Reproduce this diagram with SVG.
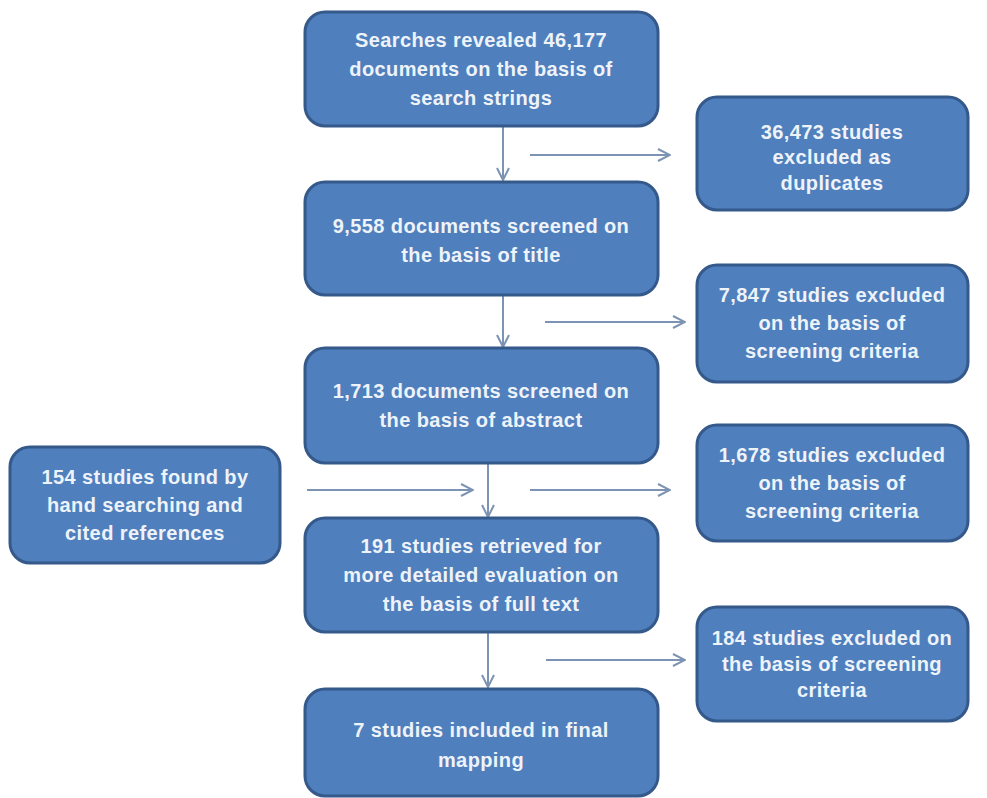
<svg xmlns="http://www.w3.org/2000/svg" width="987" height="798" viewBox="0 0 987 798">
<defs>
<style>
.box{fill:#4f7fbc;stroke:#34598a;stroke-width:3}
.t{font-family:"Liberation Sans",Arial,sans-serif;font-weight:bold;font-size:20px;fill:#eef3fa;text-anchor:middle;letter-spacing:0.4px}
.c{stroke:#7d93b3;stroke-width:2;fill:none}
</style>
<marker id="ah" viewBox="0 0 14 14" refX="13" refY="7" markerWidth="14" markerHeight="14" markerUnits="userSpaceOnUse" orient="auto">
<polyline points="1,1 13,7 1,13" fill="none" stroke="#7d93b3" stroke-width="2"/>
</marker>
</defs>
<rect width="987" height="798" fill="#ffffff"/>
<g id="connectors">
<line class="c" x1="503" y1="127" x2="503" y2="180" marker-end="url(#ah)"/>
<line class="c" x1="530" y1="155" x2="670" y2="155" marker-end="url(#ah)"/>
<line class="c" x1="503" y1="296" x2="503" y2="347" marker-end="url(#ah)"/>
<line class="c" x1="545" y1="322" x2="685" y2="322" marker-end="url(#ah)"/>
<line class="c" x1="488" y1="464" x2="488" y2="517" marker-end="url(#ah)"/>
<line class="c" x1="307" y1="490" x2="473" y2="490" marker-end="url(#ah)"/>
<line class="c" x1="530" y1="490" x2="670" y2="490" marker-end="url(#ah)"/>
<line class="c" x1="488" y1="633" x2="488" y2="687" marker-end="url(#ah)"/>
<line class="c" x1="546" y1="660" x2="685" y2="660" marker-end="url(#ah)"/>
</g>
<g id="n1">
<rect class="box" x="305" y="12" width="353" height="114" rx="20"/>
<text class="t" x="481" y="47">Searches revealed 46,177</text>
<text class="t" x="481" y="76">documents  on the basis of</text>
<text class="t" x="481" y="105">search strings</text>
</g>
<g id="n2">
<rect class="box" x="305" y="182" width="353" height="113" rx="20"/>
<text class="t" x="481" y="233">9,558 documents screened on</text>
<text class="t" x="481" y="262">the basis of title</text>
</g>
<g id="n3">
<rect class="box" x="305" y="348" width="353" height="115" rx="20"/>
<text class="t" x="481" y="398">1,713 documents screened on</text>
<text class="t" x="481" y="427">the basis of abstract</text>
</g>
<g id="n4">
<rect class="box" x="305" y="518" width="353" height="114" rx="20"/>
<text class="t" x="481" y="553">191 studies retrieved for</text>
<text class="t" x="481" y="582">more detailed evaluation  on</text>
<text class="t" x="481" y="611">the basis of full text</text>
</g>
<g id="n5">
<rect class="box" x="305" y="689" width="353" height="107" rx="20"/>
<text class="t" x="481" y="737">7 studies included in final</text>
<text class="t" x="481" y="767">mapping</text>
</g>
<g id="s1">
<rect class="box" x="697" y="97" width="271" height="113" rx="20"/>
<text class="t" x="832" y="139">36,473 studies</text>
<text class="t" x="832" y="164">excluded as</text>
<text class="t" x="832" y="190">duplicates</text>
</g>
<g id="s2">
<rect class="box" x="697" y="265" width="271" height="117" rx="20"/>
<text class="t" x="832" y="302">7,847 studies excluded</text>
<text class="t" x="832" y="330">on the basis of</text>
<text class="t" x="832" y="358">screening criteria</text>
</g>
<g id="s3">
<rect class="box" x="697" y="425" width="271" height="116" rx="20"/>
<text class="t" x="832" y="462">1,678 studies excluded</text>
<text class="t" x="832" y="490">on the basis of</text>
<text class="t" x="832" y="518">screening criteria</text>
</g>
<g id="s4">
<rect class="box" x="697" y="607" width="271" height="114" rx="20"/>
<text class="t" x="832" y="645">184 studies excluded on</text>
<text class="t" x="832" y="671">the basis of screening</text>
<text class="t" x="832" y="697">criteria</text>
</g>
<g id="s5">
<rect class="box" x="10" y="447" width="270" height="116" rx="20"/>
<text class="t" x="145" y="484">154 studies found by</text>
<text class="t" x="145" y="512">hand searching and</text>
<text class="t" x="145" y="540">cited references</text>
</g>
</svg>
